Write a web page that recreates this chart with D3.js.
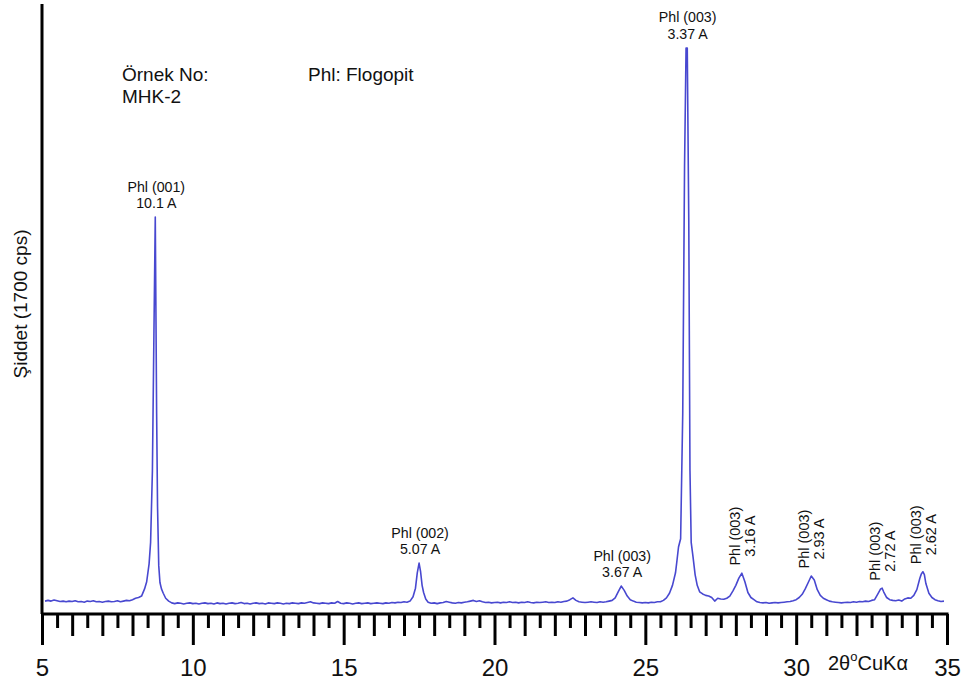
<!DOCTYPE html>
<html><head><meta charset="utf-8">
<script src="https://cdn.jsdelivr.net/npm/d3@7"></script>
<style>
body{margin:0;background:#fff}
svg{display:block}
text{font-family:"Liberation Sans",Arial,Helvetica,sans-serif;fill:#111}
</style>
</head><body>
<svg id="chart" width="966" height="684"></svg>
<script>
// ---- data (2θ in degrees, intensity in cps) ----
const scan = [
[5.1,36],[5.2,38],[5.3,36],[5.4,39],[5.5,37],[5.6,35],[5.7,36],[5.8,34],[5.9,36],[6.0,35],
[6.1,37],[6.2,34],[6.3,35],[6.4,33],[6.5,36],[6.6,35],[6.7,37],[6.8,34],[6.9,35],[7.0,33],
[7.1,35],[7.2,36],[7.3,34],[7.4,35],[7.5,37],[7.6,34],[7.7,36],[7.8,38],[7.9,37],[8.0,40],
[8.1,44],[8.2,46],[8.3,50],[8.4,70],[8.47,90],[8.55,140],[8.6,200],[8.66,400],[8.71,780],
[8.755,1108],[8.8,560],[8.83,300],[8.87,135],[8.91,88],[8.96,70],[9.02,58],[9.1,44],[9.2,36],
[9.3,31],[9.4,29],[9.5,31],[9.6,30],[9.7,28],[9.8,30],[9.9,31],[10.0,29],[10.1,30],[10.2,28],
[10.3,30],[10.4,31],[10.5,29],[10.6,30],[10.7,28],[10.8,31],[10.9,29],[11.0,30],[11.1,28],
[11.2,30],[11.3,31],[11.4,29],[11.5,30],[11.6,32],[11.7,29],[11.8,30],[11.9,28],[12.0,30],
[12.1,31],[12.2,29],[12.3,30],[12.4,28],[12.5,31],[12.6,30],[12.7,29],[12.8,31],[12.9,30],
[13.0,28],[13.1,30],[13.2,29],[13.3,31],[13.4,30],[13.5,29],[13.6,31],[13.7,30],[13.8,32],
[13.9,34],[14.0,31],[14.1,30],[14.2,29],[14.3,31],[14.4,30],[14.5,29],[14.6,31],[14.7,30],
[14.8,35],[14.9,30],[15.0,29],[15.1,31],[15.2,30],[15.3,28],[15.4,30],[15.5,31],[15.6,29],
[15.7,30],[15.8,31],[15.9,29],[16.0,30],[16.1,31],[16.2,30],[16.3,29],[16.4,31],[16.5,30],
[16.6,32],[16.7,31],[16.8,33],[16.9,32],[17.0,34],[17.1,33],[17.2,36],[17.3,48],[17.38,72],
[17.44,115],[17.5,142],[17.55,118],[17.6,80],[17.65,60],[17.72,42],[17.8,33],[17.9,30],
[18.0,31],[18.1,29],[18.2,31],[18.3,32],[18.4,35],[18.5,33],[18.6,31],[18.7,30],[18.8,32],
[18.9,31],[19.0,33],[19.1,34],[19.2,36],[19.3,38],[19.4,35],[19.5,37],[19.6,34],[19.7,32],
[19.8,33],[19.9,31],[20.0,32],[20.1,33],[20.2,31],[20.3,33],[20.4,32],[20.5,34],[20.6,32],
[20.7,33],[20.8,31],[20.9,33],[21.0,32],[21.1,34],[21.2,32],[21.3,31],[21.4,33],[21.5,32],
[21.6,33],[21.7,34],[21.8,32],[21.9,33],[22.0,32],[22.1,34],[22.2,33],[22.3,35],[22.4,36],
[22.5,40],[22.6,45],[22.7,38],[22.8,34],[22.9,33],[23.0,32],[23.1,33],[23.2,34],[23.3,33],
[23.4,32],[23.5,34],[23.6,33],[23.7,34],[23.8,36],[23.9,38],[24.0,45],[24.1,62],[24.2,78],
[24.3,66],[24.4,50],[24.5,40],[24.6,36],[24.7,33],[24.8,32],[24.9,31],[25.0,32],[25.1,31],
[25.2,33],[25.3,32],[25.4,34],[25.5,34],[25.6,38],[25.7,45],[25.8,58],[25.9,80],[26.0,115],
[26.05,150],[26.1,187],[26.17,210],[26.24,560],[26.3,1250],[26.35,1580],[26.39,1580],
[26.44,1100],[26.48,400],[26.52,200],[26.58,160],[26.65,110],[26.72,80],[26.8,62],[26.9,56],
[27.0,52],[27.1,50],[27.2,46],[27.3,36],[27.4,44],[27.5,42],[27.6,41],[27.7,44],[27.8,50],
[27.9,64],[28.0,80],[28.1,100],[28.2,114],[28.3,90],[28.4,60],[28.5,46],[28.6,40],[28.7,34],
[28.8,32],[28.9,31],[29.0,32],[29.1,30],[29.2,31],[29.3,32],[29.4,31],[29.5,32],[29.6,33],
[29.7,34],[29.8,35],[29.9,37],[30.0,40],[30.1,46],[30.2,55],[30.3,70],[30.4,88],[30.5,106],
[30.6,95],[30.7,68],[30.8,52],[30.9,44],[31.0,40],[31.1,36],[31.2,34],[31.3,33],[31.4,32],
[31.5,31],[31.6,32],[31.7,33],[31.8,32],[31.9,34],[32.0,33],[32.1,35],[32.2,34],[32.3,36],
[32.4,35],[32.5,38],[32.6,40],[32.7,55],[32.8,70],[32.85,72],[32.9,62],[33.0,46],[33.1,40],
[33.2,38],[33.3,37],[33.4,39],[33.5,36],[33.6,42],[33.7,45],[33.8,44],[33.9,52],[34.0,68],
[34.1,100],[34.15,112],[34.2,118],[34.25,110],[34.3,85],[34.4,58],[34.5,46],[34.6,40],
[34.7,37],[34.8,35],[34.9,36]
];
const majorTicks = [5, 10, 15, 20, 25, 30, 35];
const intTicks = [6, 7, 8, 9, 11, 12, 13, 14, 16, 17, 18, 19, 21, 22, 23, 24, 26, 27, 28, 29, 31, 32, 33, 34];
const halfTicks = [5.5,6.5,7.5,8.5,9.5,10.5,11.5,12.5,13.5,14.5,15.5,16.5,17.5,18.5,19.5,20.5,21.5,22.5,23.5,24.5,25.5,26.5,27.5,28.5,29.5,30.5,31.5,32.5,33.5,34.5];
const peakNames = ["Phl (001)", "Phl (002)", "Phl (003)", "Phl (003)", "Phl (003)", "Phl (003)", "Phl (003)", "Phl (003)"];
const peakAngles = [8.755, 17.5, 24.2, 26.37, 28.2, 30.5, 32.85, 34.2];
const peakD = ["10.1 A", "5.07 A", "3.67 A", "3.37 A", "3.16 A", "2.93 A", "2.72 A", "2.62 A"];
const peakVertical = [false, false, false, false, true, true, true, true];
const sampleLines = ["Örnek No:", "MHK-2"];
const mineralNote = "Phl: Flogopit";
const yTitle = "Şiddet (1700 cps)";

// ---- scales ----
const svg = d3.select("#chart");
const x = d3.scaleLinear().domain([5, 35]).range([42, 947]);
const y = d3.scaleLinear().domain([0, 1700]).range([614, 5]);
const ink = "#000";

// curve
svg.append("path")
  .datum(scan)
  .attr("fill", "none")
  .attr("stroke", "#4848d0")
  .attr("stroke-width", 1.6)
  .attr("stroke-linejoin", "round")
  .attr("d", d3.line().x(d => x(d[0])).y(d => y(d[1])));

// x axis (three tick classes)
function tickLayer(values, size, labels) {
  const ax = d3.axisBottom(x).tickValues(values).tickSize(size).tickSizeOuter(0)
    .tickFormat(labels ? d3.format("d") : "");
  const g = svg.append("g").attr("transform", "translate(0,614)").call(ax);
  g.select(".domain").remove();
  g.selectAll(".tick line").attr("stroke", ink).attr("stroke-width", 3);
  g.selectAll(".tick text").attr("font-size", 24).attr("fill", "#111").attr("y", 0).attr("dy", 0)
    .attr("transform", "translate(0,62)");
  return g;
}
tickLayer(halfTicks, 14, false);
tickLayer(intTicks, 22, false);
tickLayer(majorTicks, 31, true);

// axis lines
svg.append("line").attr("x1", x(5)).attr("x2", x(35) + 1.5).attr("y1", 614).attr("y2", 614)
  .attr("stroke", ink).attr("stroke-width", 3);
svg.append("line").attr("x1", x(5)).attr("x2", x(5)).attr("y1", y(1700) - 1).attr("y2", 614)
  .attr("stroke", ink).attr("stroke-width", 3);

// axis titles
svg.append("text").attr("transform", "translate(27,304) rotate(-90)")
  .attr("text-anchor", "middle").attr("font-size", 19).text(yTitle);
const xt = svg.append("text").attr("x", 828).attr("y", 670).attr("font-size", 20);
xt.append("tspan").text("2θ");
xt.append("tspan").attr("font-size", 13).attr("dy", -9).text("o");
xt.append("tspan").attr("dy", 9).text("CuKα");

// notes
svg.append("text").attr("x", 122).attr("y", 81).attr("font-size", 19).text(sampleLines[0]);
svg.append("text").attr("x", 122).attr("y", 103).attr("font-size", 19).text(sampleLines[1]);
svg.append("text").attr("x", 308).attr("y", 81).attr("font-size", 19).text(mineralNote);

// peak labels
function peakTop(a) {
  return d3.max(scan.filter(d => Math.abs(d[0] - a) < 0.12), d => d[1]);
}
peakAngles.forEach((a, i) => {
  const px = x(a), py = y(peakTop(a));
  if (!peakVertical[i]) {
    svg.append("text").attr("x", px + 1).attr("y", py - 25.5).attr("text-anchor", "middle")
      .attr("font-size", 14.2).text(peakNames[i]);
    svg.append("text").attr("x", px + 1).attr("y", py - 9).attr("text-anchor", "middle")
      .attr("font-size", 14.2).text(peakD[i]);
  } else {
    const cy = py - 37;
    svg.append("text").attr("transform", `translate(${px - 2},${cy}) rotate(-90)`)
      .attr("text-anchor", "middle").attr("font-size", 14.5).text(peakNames[i]);
    svg.append("text").attr("transform", `translate(${px + 13},${cy}) rotate(-90)`)
      .attr("text-anchor", "middle").attr("font-size", 14.5).text(peakD[i]);
  }
});
</script>
</body></html>
